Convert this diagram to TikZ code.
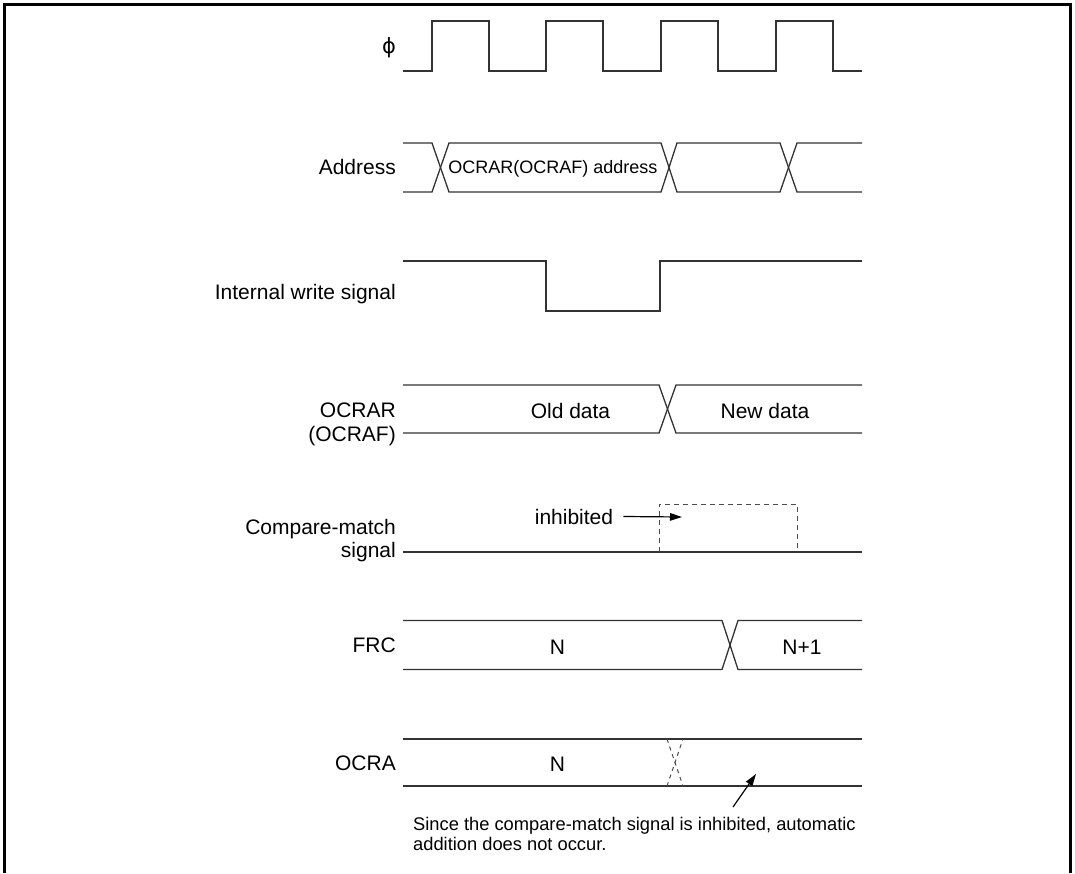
\documentclass[tikz,border=0pt]{standalone}
\usepackage{fontspec}
\setmainfont{Liberation Sans}
\newfontfamily\phifont{DejaVu Sans}
\usetikzlibrary{arrows.meta,positioning}
\newcommand{\lblsize}{\fontsize{21}{23.5}\selectfont}
\newcommand{\bussize}{\fontsize{18}{20}\selectfont}
\newcommand{\notesize}{\fontsize{18.3}{20}\selectfont}
\tikzset{
    wave/.style={line width=1.3pt, draw=black!80, line join=miter},
    ghost/.style={line width=1pt, draw=black!70, dash pattern=on 5pt off 4pt},
    siglabel/.style={anchor=base east, inner sep=0pt, font=\lblsize},
    twolabel/.style={anchor=east, inner sep=0pt, align=right, font=\lblsize},
    bustext/.style={anchor=base, inner sep=0pt, font=\lblsize},
    notearrow/.style={-{Triangle[length=12pt,width=7.5pt]}, line width=1.2pt}
}
\begin{document}
\begin{tikzpicture}[x=1pt,y=-1pt]
\useasboundingbox (0,0) rectangle (1075,873);
% frame, open at the bottom
\draw[line width=3pt] (4.7,873) -- (4.7,4.7) -- (1070.8,4.7) -- (1070.8,873);

% signal names
\node[inner sep=0pt, font=\phifont\fontsize{21}{23}\selectfont] (phiLbl) at (389,48) {ϕ};
\node[siglabel] (addrLbl) at (396,174.5) {Address};
\node[siglabel] (wrLbl) at (396,299) {Internal write signal};
\node[twolabel] (ocrarLbl) at (396,424.5) {OCRAR\\(OCRAF)};
\node[twolabel] (cmpLbl) at (396,540.5) {Compare-match\\signal};
\node[siglabel] (frcLbl) at (396,652.5) {FRC};
\node[siglabel] (ocraLbl) at (396,770.5) {OCRA};

% clock
\draw[wave] (403,71) -| (432,21) -| (489,71) -| (546,21) -| (603,71)
    -| (661,21) -| (718,71) -| (776,21) -| (833,71) -- (862,71);

% address bus
\draw[wave] (403,143) -- (432,143) -- (449,192) -- (661,192) -- (677,143)
    -- (780,143) -- (797,192) -- (862,192);
\draw[wave] (403,192) -- (432,192) -- (449,143) -- (661,143) -- (677,192)
    -- (780,192) -- (797,143) -- (862,143);
\node[bustext, font=\bussize] (addrTxt) at (553,173.4) {OCRAR(OCRAF) address};

% internal write signal
\draw[wave] (403,261) -| (546,311) -| (660,261) -- (862,261);

% OCRAR (OCRAF)
\draw[wave] (403,385) -- (659,385) -- (676,433) -- (862,433);
\draw[wave] (403,433) -- (659,433) -- (676,385) -- (862,385);
\node[bustext] (oldTxt) at (570.5,418.5) {Old data};
\node[bustext] (newTxt) at (765,418.5) {New data};

% compare-match signal
\draw[wave] (403,552) -- (862,552);
\draw[ghost] (659,552) -- (659,504) -- (797,504) -- (797,552);
\node[bustext, inner xsep=10pt] (inhibTxt) at (574,524) {inhibited};
\coordinate (inhibTip) at (682,517);
\draw[notearrow] (inhibTxt.east) -- (inhibTip);

% FRC
\draw[wave] (403,620.5) -- (722,620.5) -- (738,669.5) -- (862,669.5);
\draw[wave] (403,669.5) -- (722,669.5) -- (738,620.5) -- (862,620.5);
\node[bustext] (frcN) at (557.5,654) {N};
\node[bustext] (frcN1) at (802,654) {N+1};

% OCRA
\draw[wave] (403,739) -- (862,739);
\draw[wave] (403,786) -- (862,786);
\draw[ghost, dash pattern=on 4pt off 4pt] (667,739) -- (683,786);
\draw[ghost, dash pattern=on 4pt off 4pt] (667,786) -- (683,739);
\node[bustext] (ocraN) at (557.5,771.7) {N};

% note
\node[anchor=north west, inner sep=0pt, align=left, font=\notesize] (note) at (413,817.3)
    {Since the compare-match signal is inhibited, automatic\\addition does not occur.};
\coordinate (noteTail) at (733,807);
\coordinate (noteTip) at (756,774);
\draw[notearrow] (noteTail) -- (noteTip);
\end{tikzpicture}
\end{document}
